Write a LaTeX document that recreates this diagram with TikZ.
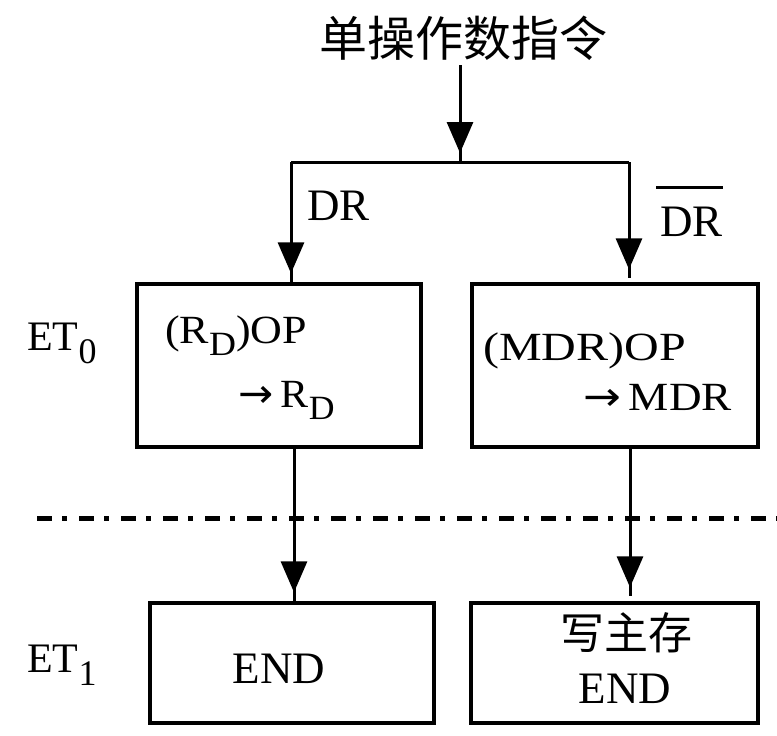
\documentclass[tikz,border=0pt]{standalone}
\usepackage{fontspec}
\usepackage{graphicx}
\setmainfont{Liberation Serif}
\newfontfamily\cjk{Noto Sans CJK SC}
\newfontfamily\symfnt{DejaVu Sans}
\usetikzlibrary{arrows.meta,decorations.markings,calc}
\newcommand\lsub[1]{\raisebox{-12pt}{\fontsize{34}{34}\selectfont #1}}
\newcommand\dsub[1]{\raisebox{-13pt}{\fontsize{36}{36}\selectfont #1}}
\newcommand\rarr{{\symfnt →}\hspace{7pt}}
\tikzset{
  conn/.style={line width=3pt},
  arr/.style={conn, postaction={decorate},
    decoration={markings, mark=at position -9pt with {\arrow{Triangle[width=26pt,length=31pt]}}}},
  boxst/.style={draw, line width=3.3pt, inner sep=0pt},
  btxt/.style={font=\fontsize{40}{40}\selectfont, inner sep=0pt, anchor=base west},
  ltxt/.style={font=\fontsize{45}{45}\selectfont, inner sep=0pt, anchor=base west},
  ettxt/.style={font=\fontsize{42}{42}\selectfont, inner sep=0pt, anchor=base west},
  dashdot/.style={line width=5pt, dash pattern=on 15pt off 10pt on 5pt off 12pt}
}
\begin{document}
\begin{tikzpicture}[x=1pt,y=-1pt]
\useasboundingbox (0,0) rectangle (777,736);
% title
\node[font=\cjk\fontsize{48}{48}\selectfont, inner sep=0pt] (t) at (463,38) {单操作数指令};
% boxes
\node[boxst, minimum width=284pt, minimum height=163pt] (b1) at (279,365.5) {};
\node[boxst, minimum width=286pt, minimum height=163pt] (b2) at (615,365.5) {};
\node[boxst, minimum width=284pt, minimum height=120pt] (b3) at (292,663) {};
\node[boxst, minimum width=287pt, minimum height=120pt] (b4) at (614.5,663) {};
% box texts
\node[btxt] (rdop) at (165,343) {\scalebox{1.1}[1]{(R\lsub{D})OP}};
\node[btxt] (tord) at (238,407) {\scalebox{1.05}[1]{\rarr R\lsub{D}}};
\node[btxt] (mdrop) at (483,360) {\scalebox{1.2}[1]{(MDR)OP}};
\node[btxt] (tomdr) at (583,410) {\scalebox{1.13}[1]{\rarr MDR}};
\node[ltxt, anchor=base] (end1) at (279,683) {END};
\node[font=\cjk\fontsize{44}{44}\selectfont, inner sep=0pt] (wzc) at (626,633) {写主存};
\node[ltxt, anchor=base] (end2) at (625,703) {END};
% side labels
\node[ettxt] (et0) at (27,350) {ET\dsub{0}};
\node[ettxt] (et1) at (27,672) {ET\dsub{1}};
\node[ltxt] (dr) at (307,220) {DR};
\node[ltxt] (drbar) at (660,236) {DR};
\draw[line width=3pt] ($(drbar.base west)+(-4,-49)$) -- ($(drbar.base east)+(0,-49)$);
% connectors
\coordinate (J) at (460,162);
\coordinate (JL) at (291,162);
\coordinate (JR) at (629,162);
\coordinate (lx) at (294,0);
\coordinate (rx) at (630,0);
\draw[arr] ($(t.south -| J)+(0,5)$) -- (J);
\draw[conn] (JL) -- (JR);
\draw[arr] (JL) -- (JL |- b1.north);
\draw[arr] (JR) -- ($(JR |- b2.north)+(0,-4)$);
\draw[arr] (b1.south -| lx) -- (b3.north -| lx);
\draw[arr] (b2.south -| rx) -- ($(b4.north -| rx)+(0,-5)$);
% dash-dot separator
\coordinate (dL) at (37,518);
\coordinate (dR) at (777,518);
\draw[dashdot] (dL) -- (dR);
\end{tikzpicture}
\end{document}
